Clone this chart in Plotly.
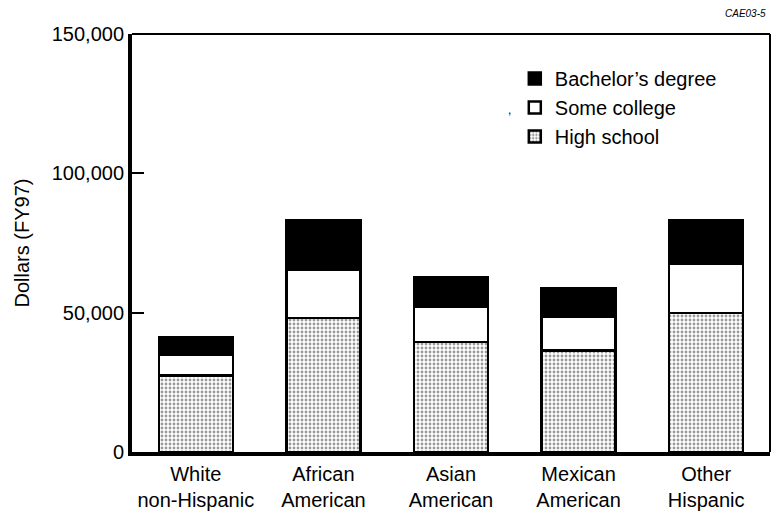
import plotly.graph_objects as go

categories = ["White<br>non-Hispanic", "African<br>American", "Asian<br>American",
              "Mexican<br>American", "Other<br>Hispanic"]
high_school = [27500, 48000, 39500, 36500, 49800]
some_college = [7500, 17300, 12800, 12000, 17900]
bachelors = [6200, 17800, 10300, 10300, 15300]
y_ticks = [0, 50000, 100000, 150000]

FONT = "Liberation Sans, Arial, sans-serif"

fig = go.Figure()
fig.add_trace(go.Bar(
    x=categories, y=high_school, name="High school",
    marker=dict(color="white", line=dict(color="black", width=2.5),
                pattern=dict(shape=".", fgcolor="#333333", bgcolor="white",
                             size=4, solidity=0.4)),
))
fig.add_trace(go.Bar(
    x=categories, y=some_college, name="Some college",
    marker=dict(color="white", line=dict(color="black", width=2.5)),
))
fig.add_trace(go.Bar(
    x=categories, y=bachelors, name="Bachelor’s degree",
    marker=dict(color="black", line=dict(color="black", width=2.5)),
))

fig.update_layout(
    barmode="stack",
    bargap=0.42,
    width=772, height=512,
    margin=dict(l=132, r=2, t=34, b=60),
    paper_bgcolor="white", plot_bgcolor="white",
    font=dict(family=FONT, color="black", size=20),
    showlegend=True,
    legend=dict(x=0.600, y=0.94, xanchor="left", yanchor="top",
                traceorder="reversed",
                font=dict(size=20), bgcolor="rgba(0,0,0,0)"),
    xaxis=dict(showline=True, linecolor="black", linewidth=4, ticks="",
               showgrid=False, tickfont=dict(size=20), fixedrange=True,
               ticklabelstandoff=1, automargin=False),
    yaxis=dict(range=[0, 150000], tickvals=y_ticks, tickformat=",",
               showline=True, linecolor="black", linewidth=4,
               ticks="inside", ticklen=12, tickwidth=2, tickcolor="black",
               showgrid=False, zeroline=False, tickfont=dict(size=20),
               automargin=False,
               title=dict(text="Dollars (FY97)", font=dict(size=20), standoff=18)),
    shapes=[
        dict(type="line", xref="paper", yref="paper", x0=0, x1=1, y0=1, y1=1,
             line=dict(color="black", width=2)),
        dict(type="line", xref="paper", yref="paper", x0=1, x1=1, y0=0, y1=1,
             line=dict(color="black", width=2)),
    ],
    annotations=[
        dict(text="CAE03-5", xref="paper", yref="paper", x=0.997, y=1.03,
             xanchor="right", yanchor="bottom", showarrow=False,
             font=dict(size=10, style="italic", family=FONT)),
        dict(text=",", xref="paper", yref="paper", x=0.591, y=0.818,
             xanchor="center", yanchor="middle", showarrow=False,
             font=dict(size=12, family=FONT)),
    ],
)

fig.write_html("out.html", config={"displayModeBar": False},
               post_script="document.body.style.margin='0';document.body.style.overflow='hidden';")
